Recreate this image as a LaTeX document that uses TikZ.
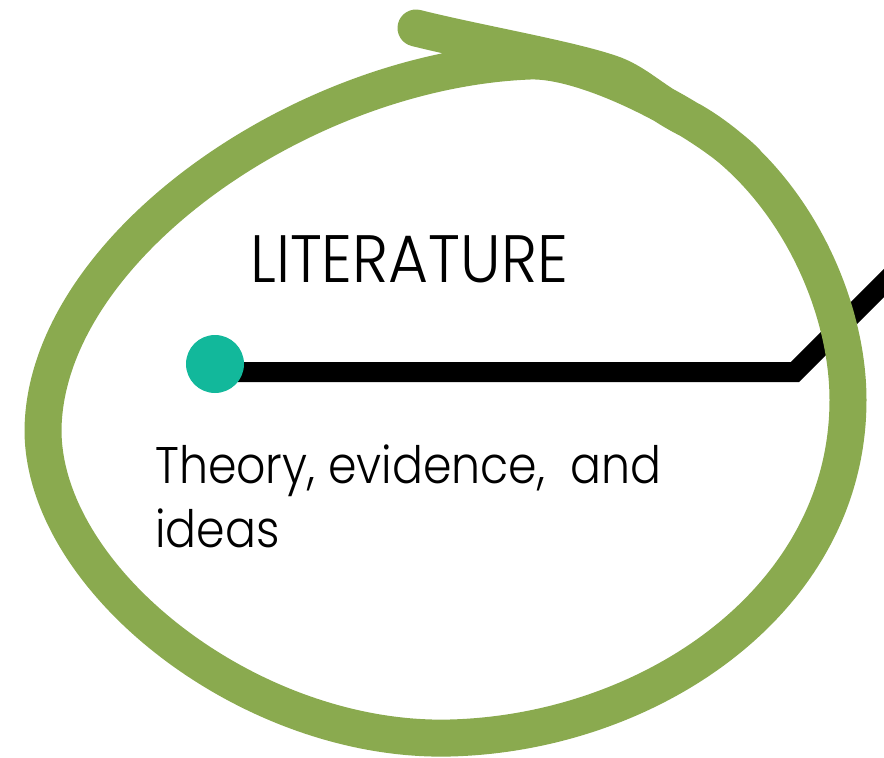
\documentclass[tikz,border=0pt]{standalone}
\usepackage{fontspec}
\setmainfont{Poppins Light}
\definecolor{loopgreen}{HTML}{8AAA4F}
\definecolor{dotteal}{HTML}{12B89B}
\tikzset{
  loopline/.style={draw=loopgreen, line width=37pt, line cap=round, line join=round},
  trackline/.style={draw=black, line width=20pt, line join=miter},
  txt/.style={inner sep=0pt, anchor=base west, text=black},
}
\begin{document}
\begin{tikzpicture}[x=1pt,y=-1pt]
\useasboundingbox (0,0) rectangle (884,758);
\clip (0,0) rectangle (884,758);
% track line
\coordinate (l0) at (230,372);
\coordinate (bend) at (795,372);
\coordinate (lend) at (905,262);
\draw[trackline] (l0) -- (bend) -- (lend);
\node[circle, fill=dotteal, minimum size=58pt, inner sep=0pt] (dot) at (215,364) {};
% green hand-drawn loop
\coordinate (A) at (416,28);
\coordinate (B) at (615,75);
\coordinate (C) at (692,121);
\coordinate (D) at (848,400);
\coordinate (E) at (450,738);
\coordinate (F) at (43,430);
\coordinate (J) at (530,61);
\coordinate (K) at (746,162);
\draw[loopline] (A) .. controls (480,44) and (575,60) .. (B)
  .. controls (640,85) and (655,103) .. (C)
  .. controls (790,178) and (848,300) .. (D)
  .. controls (848,600) and (650,733) .. (E)
  .. controls (250,743) and (43,580) .. (F)
  .. controls (45,250) and (300,70) .. (J)
  .. controls (590,59) and (705,121) .. (K);
% texts
\node[txt] (title) at (250,282) {\scalebox{0.915}[1]{\fontsize{67}{67}\selectfont LITERATURE}};
\node[txt] (desc1) at (155,483) {\scalebox{0.89}[1]{\fontsize{51.5}{51.5}\selectfont Theory, evidence,\ \ and}};
\node[txt] (desc2) at (155,547) {\scalebox{0.89}[1]{\fontsize{51.5}{51.5}\selectfont ideas}};
\end{tikzpicture}
\end{document}
